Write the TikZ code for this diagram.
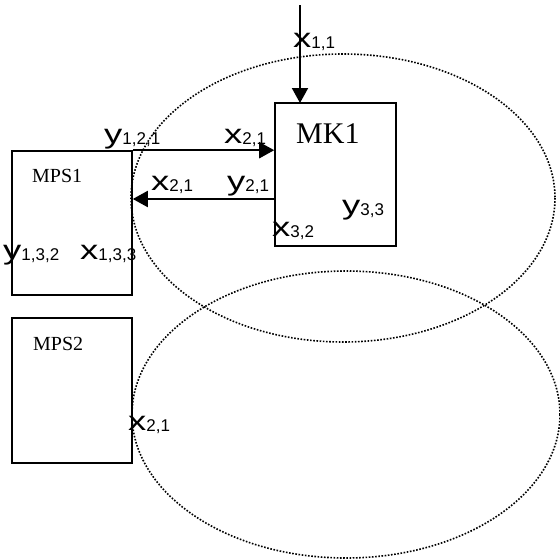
\documentclass[tikz,border=0pt]{standalone}
\usepackage{fontspec}
\usepackage{graphicx}
\setmainfont{Liberation Serif}
\newfontfamily\labfont{Liberation Sans}
\usetikzlibrary{arrows.meta}
\newcommand{\vlab}[2]{{\labfont\fontsize{27}{27}\selectfont\scalebox{1.35}[1]{#1}}{\labfont\fontsize{17}{17}\selectfont\raisebox{-1pt}{#2}}}
\tikzset{
  blockbox/.style={draw, line width=1.6pt, inner sep=0pt},
  region/.style={draw, line width=1.6pt, dash pattern=on 1.6pt off 1.6pt},
  flow/.style={line width=2pt, -{Triangle[length=15pt,width=16pt]}},
  varlab/.style={anchor=base west, inner sep=0pt},
  boxtitle/.style={anchor=base west, inner sep=0pt}
}
\begin{document}
\begin{tikzpicture}[x=1pt,y=-1pt]
\useasboundingbox (0,0) rectangle (560,560);
% regions
\draw[region] (343,198) ellipse [x radius=212, y radius=144];
\draw[region] (346,414.5) ellipse [x radius=214, y radius=143.5];
% boxes
\node[blockbox, minimum width=121pt, minimum height=143pt] (mk1) at (335.5,174.5) {};
\node[blockbox, minimum width=120pt, minimum height=144pt] (mps1) at (72,223) {};
\node[blockbox, minimum width=120pt, minimum height=145pt] (mps2) at (72,390.5) {};
% titles
\node[boxtitle, font=\fontsize{30}{30}\selectfont] (t1) at (296,143) {MK1};
\node[boxtitle, font=\fontsize{20}{20}\selectfont] (t2) at (32,182) {MPS1};
\node[boxtitle, font=\fontsize{20}{20}\selectfont] (t3) at (33,350) {MPS2};
% connectors
\coordinate (top) at (300,5);
\coordinate (mkin) at (300,103);
\draw[flow] (top) -- (mkin);
\coordinate (mkout) at (mk1.west |- 0,199);
\draw[flow] (mps1.north east) -- (mps1.north east -| mk1.west);
\draw[flow] (mkout) -- (mkout -| mps1.east);
% labels
\node[varlab] (l11) at (293,47) {\vlab{x}{1,1}};
\node[varlab] (l121) at (104,143) {\vlab{y}{1,2,1}};
\node[varlab] (lx21a) at (224,143) {\vlab{x}{2,1}};
\node[varlab] (lx21b) at (151,190) {\vlab{x}{2,1}};
\node[varlab] (ly21) at (227,190) {\vlab{y}{2,1}};
\node[varlab] (ly33) at (342,214) {\vlab{y}{3,3}};
\node[varlab] (lx32) at (272,236) {\vlab{x}{3,2}};
\node[varlab] (ly132) at (3,259) {\vlab{y}{1,3,2}};
\node[varlab] (lx133) at (80,259) {\vlab{x}{1,3,3}};
\node[varlab] (lx21c) at (128,430) {\vlab{x}{2,1}};
\end{tikzpicture}
\end{document}
